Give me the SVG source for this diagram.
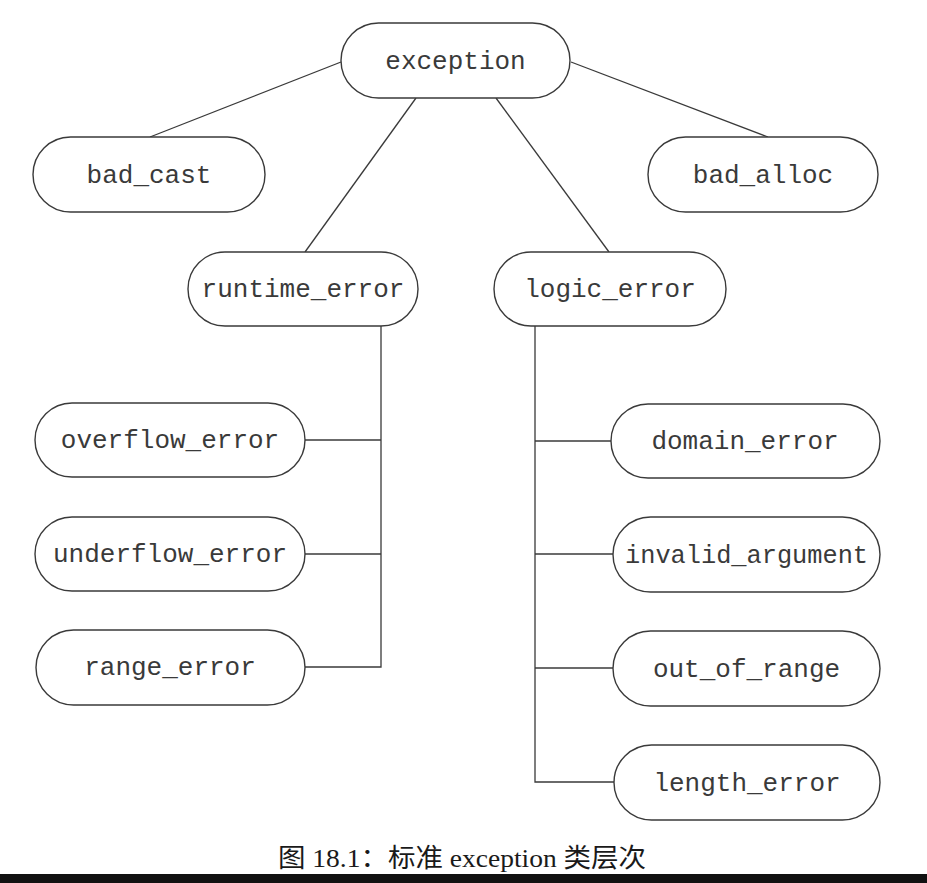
<svg xmlns="http://www.w3.org/2000/svg" width="927" height="883" viewBox="0 0 927 883">
<style>
.box{fill:#fff;stroke:#3a3a3a;stroke-width:1.4}
.lbl{font-family:"Liberation Mono","DejaVu Sans Mono",monospace;font-size:26px;fill:#3a3a3a;text-anchor:middle}
.edge{fill:none;stroke:#3a3a3a;stroke-width:1.3}
.cap{font-family:"Liberation Serif","Noto Sans CJK SC",serif;font-size:26px;fill:#1a1a1a}
</style>
<rect width="927" height="883" fill="#fff"/>
<g id="connectors">
<line class="edge" x1="341" y1="62" x2="150" y2="137"/>
<line class="edge" x1="571" y1="62" x2="768" y2="137"/>
<line class="edge" x1="416" y1="98" x2="305" y2="252"/>
<line class="edge" x1="496" y1="98" x2="609" y2="252"/>
<polyline class="edge" points="381,326 381,667 305,667"/>
<line class="edge" x1="305" y1="440" x2="381" y2="440"/>
<line class="edge" x1="305" y1="554" x2="381" y2="554"/>
<polyline class="edge" points="535,326 535,782 614,782"/>
<line class="edge" x1="535" y1="441" x2="611" y2="441"/>
<line class="edge" x1="535" y1="554" x2="613" y2="554"/>
<line class="edge" x1="535" y1="668" x2="613" y2="668"/>
</g>
<g id="n-exception"><rect class="box" x="341" y="23" width="229" height="75" rx="37.5"/><text class="lbl" x="455.5" y="69">exception</text></g>
<g id="n-bad_cast"><rect class="box" x="33" y="137" width="232" height="75" rx="37.5"/><text class="lbl" x="149" y="183">bad_cast</text></g>
<g id="n-bad_alloc"><rect class="box" x="648" y="137" width="230" height="75" rx="37.5"/><text class="lbl" x="763" y="183">bad_alloc</text></g>
<g id="n-runtime_error"><rect class="box" x="188" y="252" width="230" height="74" rx="37"/><text class="lbl" x="303" y="297">runtime_error</text></g>
<g id="n-logic_error"><rect class="box" x="494" y="252" width="232" height="74" rx="37"/><text class="lbl" x="610" y="297">logic_error</text></g>
<g id="n-overflow_error"><rect class="box" x="35" y="403" width="270" height="74" rx="37"/><text class="lbl" x="170" y="448">overflow_error</text></g>
<g id="n-underflow_error"><rect class="box" x="35" y="517" width="270" height="74" rx="37"/><text class="lbl" x="170" y="562">underflow_error</text></g>
<g id="n-range_error"><rect class="box" x="36" y="630" width="269" height="75" rx="37.5"/><text class="lbl" x="170" y="675">range_error</text></g>
<g id="n-domain_error"><rect class="box" x="611" y="404" width="269" height="74" rx="37"/><text class="lbl" x="745" y="449">domain_error</text></g>
<g id="n-invalid_argument"><rect class="box" x="613" y="517" width="267" height="75" rx="37.5"/><text class="lbl" x="746.5" y="563" textLength="243" lengthAdjust="spacingAndGlyphs">invalid_argument</text></g>
<g id="n-out_of_range"><rect class="box" x="613" y="631" width="267" height="75" rx="37.5"/><text class="lbl" x="746.5" y="677">out_of_range</text></g>
<g id="n-length_error"><rect class="box" x="614" y="745" width="266" height="75" rx="37.5"/><text class="lbl" x="747" y="791">length_error</text></g>
<text class="cap" x="278" y="867" textLength="368" lengthAdjust="spacingAndGlyphs">图 18.1：标准 exception 类层次</text>
<rect x="0" y="874" width="927" height="9" fill="#111"/>
</svg>
